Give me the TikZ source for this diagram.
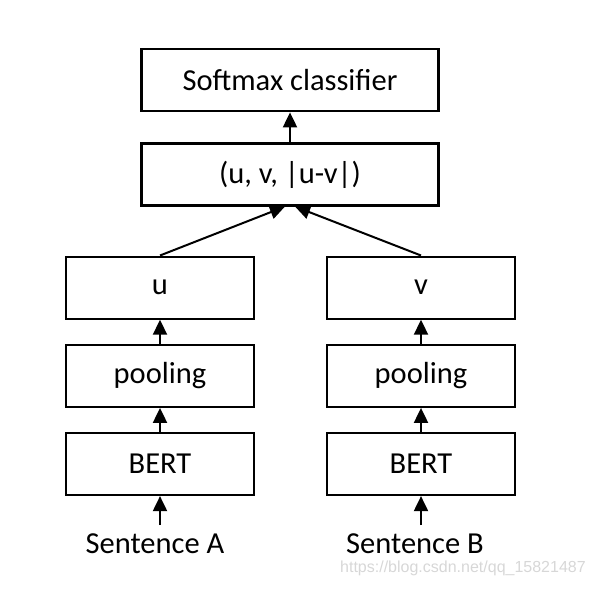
\documentclass[tikz,border=0pt]{standalone}
\usepackage{fontspec}
\setmainfont{Carlito}
\newfontfamily\wmfont{Liberation Sans}
\usetikzlibrary{arrows.meta,positioning}
\definecolor{mark}{RGB}{215,215,215}
\tikzset{
  blk/.style={draw=black,line width=2.2pt,minimum width=188pt,minimum height=62pt,inner sep=0pt,font=\fontsize{30.5}{36}\selectfont},
  wide/.style={blk,minimum width=297pt},
  lbl/.style={inner xsep=0pt,inner ysep=8pt,font=\fontsize{30.5}{36}\selectfont},
  arr/.style={-{Triangle[length=15pt,width=14pt]},line width=2pt},
}

\begin{document}
\begin{tikzpicture}[x=1pt,y=-1pt,node distance=24pt]
  \useasboundingbox (0,0) rectangle (593,588);
  % left branch
  \node[blk] (bertA) at (160,464) {BERT};
  \node[blk,above=of bertA] (poolA) {pooling};
  \node[blk,above=of poolA] (u) {u};
  \node[lbl,below=29pt of bertA,xshift=-5pt] (sentA) {Sentence A};
  % right branch
  \node[blk] (bertB) at (421,464) {BERT};
  \node[blk,above=of bertB] (poolB) {pooling};
  \node[blk,above=of poolB] (v) {v};
  \node[lbl,below=29pt of bertB,xshift=-6pt] (sentB) {Sentence B};
  % top
  \node[wide] (uv) at (290,174.5) {(u, v, |u-v|)};
  \node[wide,above=30pt of uv] (soft) {Softmax classifier};
  \draw[arr] (bertA.south |- sentA.north) -- (bertA);
  \draw[arr] (bertB.south |- sentB.north) -- (bertB);
  \draw[arr] (bertA) -- (poolA);
  \draw[arr] (poolA) -- (u);
  \draw[arr] (bertB) -- (poolB);
  \draw[arr] (poolB) -- (v);
  \draw[arr] (u.north) -- (uv.-99);
  \draw[arr] (v.north) -- (uv.-81);
  \draw[arr] (uv) -- (soft);
  \node[anchor=west,inner sep=0pt,text=mark,font=\wmfont\fontsize{16}{18}\selectfont] (wm) at (340,568) {https://blog.csdn.net/qq\_15821487};
\end{tikzpicture}
\end{document}
